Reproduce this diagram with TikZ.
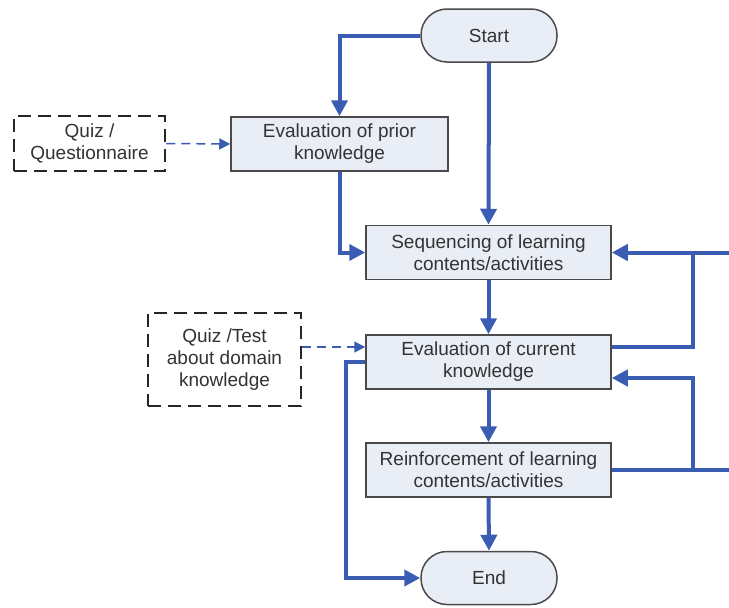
\documentclass[tikz,border=0pt]{standalone}
\usepackage{fontspec}
\setmainfont{Liberation Sans}
\usetikzlibrary{arrows.meta}
\definecolor{flowblue}{HTML}{3A5DB3}
\definecolor{boxfill}{HTML}{E9EDF5}
\definecolor{boxline}{HTML}{4A4A4A}
\definecolor{txt}{HTML}{333333}
\tikzset{
  procbox/.style={draw=boxline, line width=1.5pt, fill=boxfill, minimum width=245pt, minimum height=54pt, align=center, text=txt, font=\fontsize{19}{22}\selectfont, inner sep=0pt},
  termbox/.style={draw=boxline, line width=1.5pt, fill=boxfill, rounded corners=26pt, minimum width=136pt, minimum height=53pt, align=center, text=txt, font=\fontsize{19}{22}\selectfont, inner sep=0pt},
  notebox/.style={draw=black!85, line width=2.5pt, dash pattern=on 13pt off 7pt, fill=white, align=center, text=txt, font=\fontsize{19}{22}\selectfont, inner sep=0pt},
  flow/.style={draw=flowblue, line width=4pt, -{Triangle[length=16pt,width=16pt]}},
  flowline/.style={draw=flowblue, line width=4pt},
  hint/.style={draw=flowblue, line width=1.5pt, dash pattern=on 9pt off 6pt, -{Triangle[length=11pt,width=11pt]}}
}
\begin{document}
\begin{tikzpicture}[x=1pt,y=-1pt]
\useasboundingbox (0,0) rectangle (729,608);
\node[termbox] (st) at (489,35.5) {Start};
\node[procbox, minimum width=217pt] (ep) at (339.5,144) {Evaluation of prior\\knowledge};
\node[procbox] (sq) at (488.5,252.5) {Sequencing of learning\\contents/activities};
\node[procbox] (ec) at (488.5,362) {Evaluation of current\\knowledge};
\node[procbox] (re) at (488.5,470) {Reinforcement of learning\\contents/activities};
\node[termbox] (en) at (489,578) {End};
\node[notebox, minimum width=151pt, minimum height=55pt] (qq) at (89.5,143.5) {Quiz /\\Questionnaire};
\node[notebox, minimum width=153pt, minimum height=93pt] (qt) at (224.5,359.5) {Quiz /Test\\about domain\\knowledge};
\coordinate (rj1) at (693,252.5);
\coordinate (rj2) at (693,378);
\coordinate (edge1) at (730,252.5);
\coordinate (edge2) at (730,470);
\coordinate (lb) at (346,362);
\coordinate (ecout) at ([yshift=15pt]ec.east);
\coordinate (ecin) at ([yshift=-16pt]ec.east);
\coordinate (ecdash) at ([yshift=15pt]ec.west);
% main flow
\draw[flow] (st.west) -| (ep.north);
\draw[flow] (st.south) -- (sq.north);
\draw[flow] (ep.south) |- (sq.west);
\draw[flow] (sq.south) -- (ec.north);
\draw[flow] (ec.south) -- (re.north);
\draw[flow] (re.south) -- (en.north);
% loops
\draw[flow] (ecout) -| (rj1) -- (sq.east);
\draw[flowline] (rj1) -- (edge1);
\draw[flow] (re.east) -| (rj2) -- (ecin);
\draw[flowline] (re.east) -- (edge2);
\draw[flow] (ec.west) -- (lb) |- (en.west);
% dashed hints
\draw[hint] (qq.east) -- (ep.west);
\draw[hint] (qt.east |- ecdash) -- (ecdash);
\end{tikzpicture}
\end{document}
